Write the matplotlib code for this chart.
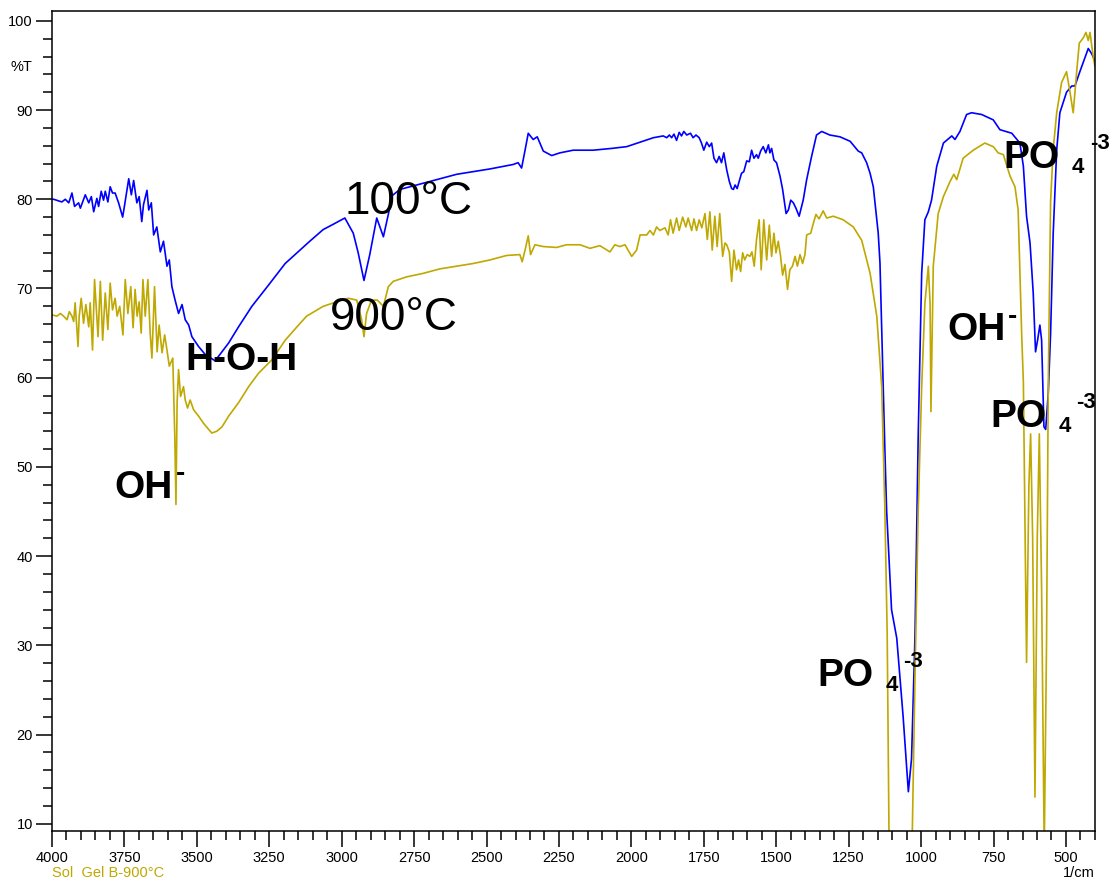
import matplotlib
matplotlib.use("Agg")
import matplotlib.pyplot as plt
from matplotlib.ticker import MultipleLocator

# ИК-спектры образца Sol Gel B: после сушки (100°C) и после прокаливания (900°C)
wn_100 = [4000, 3994, 3966, 3954, 3942, 3931, 3922, 3908, 3902, 3885, 3873, 3864, 3856, 3845,
          3839, 3830, 3822, 3816, 3807, 3799, 3791, 3782, 3770, 3756, 3749, 3735, 3726, 3718,
          3707, 3699, 3690, 3684, 3672, 3666, 3657, 3649, 3638, 3626, 3615, 3603, 3595, 3586,
          3575, 3563, 3551, 3540, 3528, 3517, 3494, 3471, 3437, 3425, 3390, 3356, 3310, 3252,
          3195, 3137, 3110, 3064, 3029, 2989, 2960, 2943, 2923, 2903, 2879, 2856, 2839, 2826,
          2799, 2718, 2603, 2488, 2408, 2391, 2379, 2367, 2356, 2339, 2325, 2304, 2275, 2247,
          2201, 2132, 2068, 2016, 1970, 1924, 1890, 1878, 1869, 1861, 1853, 1844, 1835, 1827,
          1819, 1809, 1796, 1787, 1777, 1766, 1758, 1750, 1740, 1731, 1723, 1715, 1706, 1697,
          1689, 1681, 1671, 1662, 1654, 1648, 1642, 1635, 1628, 1620, 1612, 1602, 1593, 1585,
          1577, 1568, 1562, 1554, 1545, 1536, 1527, 1522, 1516, 1508, 1499, 1487, 1478, 1466,
          1458, 1450, 1441, 1432, 1421, 1407, 1395, 1378, 1361, 1343, 1315, 1280, 1245, 1217,
          1205, 1188, 1176, 1165, 1148, 1142, 1131, 1125, 1119, 1102, 1084, 1062, 1044, 1033,
          1021, 1010, 998, 987, 975, 964, 946, 923, 894, 883, 866, 843, 826, 791, 751, 728, 687,
          659, 647, 636, 624, 613, 605, 598, 590, 584, 576, 570, 561, 553, 544, 532, 521, 498,
          480, 469, 452, 423, 411, 400]
t_100 = [80.0, 80.0, 79.7, 80.0, 79.6, 80.7, 79.2, 79.6, 79.0, 80.5, 79.6, 80.3, 78.6, 80.1,
         79.2, 80.9, 79.9, 80.9, 79.7, 81.4, 80.7, 80.7, 79.6, 78.0, 79.4, 82.3, 80.5, 82.1,
         79.6, 80.3, 77.5, 79.4, 81.0, 78.8, 79.6, 76.0, 76.9, 74.1, 75.3, 72.5, 73.2, 70.2,
         68.7, 67.2, 68.2, 66.5, 65.9, 64.6, 63.5, 62.6, 61.9, 62.4, 63.9, 65.7, 68.0, 70.4,
         72.8, 74.5, 75.3, 76.6, 77.2, 77.9, 76.2, 74.0, 70.9, 73.8, 77.9, 75.8, 78.3, 80.4,
         81.1, 81.8, 82.8, 83.4, 83.9, 84.1, 83.5, 85.5, 87.4, 86.7, 87.0, 85.4, 84.9, 85.2,
         85.5, 85.5, 85.7, 85.9, 86.4, 86.9, 87.1, 86.9, 87.2, 86.9, 87.3, 86.6, 87.5, 87.1,
         87.6, 87.2, 87.4, 86.9, 87.2, 86.9, 86.3, 85.5, 86.4, 85.9, 86.3, 84.6, 84.1, 84.8,
         84.1, 85.2, 83.3, 82.0, 81.2, 81.1, 81.6, 81.2, 82.0, 82.9, 83.1, 84.3, 84.2, 85.5,
         84.6, 85.0, 84.6, 85.4, 85.9, 85.2, 86.1, 85.2, 85.7, 84.4, 84.1, 82.6, 81.1, 78.4,
         78.8, 79.9, 79.6, 79.0, 78.1, 79.9, 82.2, 84.8, 87.2, 87.6, 87.2, 87.0, 86.5, 85.4,
         85.2, 84.1, 82.9, 81.4, 76.2, 72.9, 59.0, 51.9, 45.1, 34.0, 30.8, 22.0, 13.6, 17.3,
         31.2, 53.5, 71.7, 77.7, 78.6, 79.9, 83.7, 86.3, 87.1, 86.7, 87.6, 89.5, 89.7, 89.5,
         88.9, 87.8, 87.4, 86.3, 83.7, 78.1, 75.1, 69.5, 62.9, 64.2, 65.9, 64.2, 54.5, 54.2,
         58.3, 65.0, 76.2, 85.5, 89.7, 92.0, 92.7, 92.7, 94.3, 96.9, 96.3, 95.5]

wn_900 = [4000, 3994, 3983, 3971, 3960, 3948, 3940, 3931, 3925, 3920, 3910, 3906, 3899, 3891,
          3883, 3873, 3868, 3860, 3853, 3841, 3833, 3825, 3816, 3807, 3799, 3791, 3782, 3775,
          3766, 3755, 3747, 3738, 3728, 3720, 3713, 3706, 3699, 3692, 3686, 3678, 3669, 3661,
          3655, 3646, 3637, 3630, 3620, 3611, 3603, 3595, 3583, 3576, 3572, 3568, 3563, 3556,
          3546, 3540, 3532, 3523, 3511, 3494, 3477, 3459, 3448, 3431, 3413, 3390, 3356, 3321,
          3287, 3241, 3195, 3149, 3121, 3064, 3018, 2977, 2948, 2931, 2923, 2914, 2897, 2877,
          2856, 2839, 2822, 2776, 2718, 2661, 2603, 2546, 2488, 2431, 2385, 2377, 2367, 2356,
          2348, 2333, 2304, 2258, 2224, 2177, 2143, 2109, 2074, 2057, 2040, 2022, 1999, 1982,
          1970, 1947, 1936, 1924, 1913, 1902, 1884, 1873, 1865, 1856, 1844, 1835, 1823, 1812,
          1804, 1792, 1784, 1775, 1766, 1757, 1746, 1738, 1729, 1721, 1712, 1704, 1695, 1685,
          1677, 1671, 1662, 1654, 1646, 1637, 1630, 1623, 1616, 1609, 1600, 1591, 1584, 1576,
          1568, 1559, 1552, 1543, 1533, 1524, 1516, 1508, 1501, 1493, 1485, 1478, 1470, 1461,
          1453, 1444, 1435, 1427, 1418, 1409, 1401, 1395, 1381, 1372, 1363, 1352, 1338, 1326,
          1303, 1269, 1234, 1205, 1176, 1153, 1136, 1125, 1117, 1110, 1072, 1032, 1021, 1010,
          998, 987, 975, 969, 966, 958, 941, 923, 900, 887, 877, 855, 820, 780, 751, 734, 716,
          693, 676, 665, 653, 647, 641, 636, 628, 622, 615, 607, 599, 592, 584, 575, 567, 561,
          553, 544, 532, 515, 498, 486, 475, 463, 454, 440, 431, 423, 417, 406, 400]
t_900 = [67.0, 67.0, 66.9, 67.2, 66.9, 66.5, 67.4, 66.9, 66.3, 68.4, 63.5, 66.9, 68.9, 66.1,
         68.2, 65.7, 68.4, 63.1, 71.0, 64.6, 70.8, 64.2, 69.5, 65.4, 70.6, 67.6, 68.9, 66.9,
         68.0, 64.8, 71.0, 67.2, 70.2, 65.6, 69.9, 66.9, 68.5, 65.0, 71.0, 66.9, 71.0, 65.0,
         62.2, 70.2, 62.9, 65.9, 62.8, 64.8, 63.1, 61.3, 62.2, 53.4, 45.8, 57.2, 60.9, 57.9,
         59.0, 57.5, 56.6, 57.5, 56.4, 55.7, 54.9, 54.2, 53.8, 54.0, 54.5, 55.7, 57.2, 59.0,
         60.5, 62.0, 64.2, 65.9, 66.9, 68.0, 68.5, 68.9, 68.7, 66.5, 64.6, 67.2, 68.7, 68.7,
         68.0, 70.2, 70.8, 71.3, 71.7, 72.2, 72.5, 72.8, 73.2, 73.7, 73.8, 73.0, 74.3, 75.9,
         73.8, 74.9, 74.7, 74.6, 74.9, 74.9, 74.5, 74.8, 74.1, 74.9, 74.7, 74.9, 73.6, 74.3,
         76.0, 76.0, 76.5, 76.0, 76.9, 76.5, 76.8, 76.0, 77.7, 76.2, 77.9, 76.5, 78.0, 76.9,
         77.9, 76.5, 77.8, 76.5, 77.7, 76.8, 78.4, 75.5, 78.6, 74.3, 78.1, 74.7, 78.4, 73.6,
         75.1, 74.9, 74.1, 70.8, 74.3, 72.1, 73.2, 71.9, 74.0, 73.2, 73.8, 73.6, 74.1, 72.5,
         75.5, 77.7, 72.1, 77.7, 73.2, 77.1, 73.6, 76.2, 74.0, 75.3, 73.6, 71.5, 72.7, 69.9,
         72.1, 72.5, 73.6, 72.5, 73.8, 72.8, 73.8, 76.0, 76.2, 77.3, 78.3, 77.8, 78.7, 77.9,
         78.1, 77.7, 76.9, 75.4, 71.7, 66.9, 59.0, 45.1, 31.2, 6.0, 2.0, 6.0, 26.6, 45.1,
         59.0, 68.3, 72.5, 68.3, 56.2, 72.5, 78.4, 80.3, 82.0, 82.8, 82.2, 84.6, 85.5, 86.3,
         85.9, 85.2, 85.0, 82.6, 81.4, 78.8, 65.0, 59.5, 42.1, 28.1, 47.9, 53.7, 42.1, 13.0,
         42.1, 53.7, 36.2, 7.0, 30.4, 59.5, 79.8, 85.6, 89.7, 93.1, 94.3, 92.0, 89.7, 94.3,
         97.5, 98.1, 98.7, 97.8, 98.7, 96.0, 94.9]

BLUE = '#0000ff'
OLIVE = '#bfa800'
TICK_FONT = ['Liberation Sans Narrow', 'Liberation Sans']

plt.rcParams['font.family'] = ['Liberation Sans', 'DejaVu Sans']

fig = plt.figure(figsize=(11.15, 8.81), dpi=100)
ax = fig.add_axes([0.0466, 0.0568, 0.9354, 0.9307])

ax.plot(wn_100, t_100, color=BLUE, lw=1.2)
ax.plot(wn_900, t_900, color=OLIVE, lw=1.2)

ax.set_xlim(4000, 400)
ax.set_ylim(9.2, 101.1)
ax.xaxis.set_major_locator(MultipleLocator(250))
ax.xaxis.set_minor_locator(MultipleLocator(50))
ax.yaxis.set_major_locator(MultipleLocator(10))
ax.yaxis.set_minor_locator(MultipleLocator(2))

for s in ax.spines.values():
    s.set_linewidth(1.1)
ax.tick_params(which='major', direction='out', length=11.8, width=1.1,
               labelsize=10.5, labelfontfamily=TICK_FONT)
ax.tick_params(which='minor', direction='out', length=6.7, width=1.1)
ax.tick_params(axis='x', pad=2.5)
ax.tick_params(axis='y', pad=2)

ax.text(-0.0192, 94.8, '%T', transform=ax.get_yaxis_transform(),
        ha='right', va='center', fontsize=10.5, family=TICK_FONT)
ax.text(1.0, -0.051, '1/cm', transform=ax.transAxes,
        ha='right', va='center', fontsize=10.5, family=TICK_FONT)
ax.text(0.0, -0.051, 'Sol  Gel B-900°C', transform=ax.transAxes, color=OLIVE,
        ha='left', va='center', fontsize=10.5, family=TICK_FONT)


def oh_label(x, y):
    ax.text(x, y, 'OH', fontsize=28, fontweight='bold', ha='left', va='baseline')
    ax.annotate('-', (x, y), xytext=(44, 12), textcoords='offset points',
                fontsize=20, fontweight='bold', ha='left', va='baseline')


def po4_label(x, y):
    ax.text(x, y, 'PO', fontsize=28, fontweight='bold', ha='left', va='baseline')
    ax.annotate('4', (x, y), xytext=(49, -3.6), textcoords='offset points',
                fontsize=16, fontweight='bold', ha='left', va='baseline')
    ax.annotate('-3', (x, y), xytext=(62, 13.4), textcoords='offset points',
                fontsize=16, fontweight='bold', ha='left', va='baseline')


ax.text(2990, 78.3, '100°C', fontsize=33, ha='left', va='baseline')
ax.text(3040, 65.4, '900°C', fontsize=33, ha='left', va='baseline')
ax.text(3541, 60.9, 'H-O-H', fontsize=28, fontweight='bold', ha='left', va='baseline')
oh_label(3784, 46.5)
oh_label(911, 64.2)
po4_label(1359, 25.5)
po4_label(761, 54.5)
po4_label(715, 83.5)

fig.savefig('out.png', dpi=100)
